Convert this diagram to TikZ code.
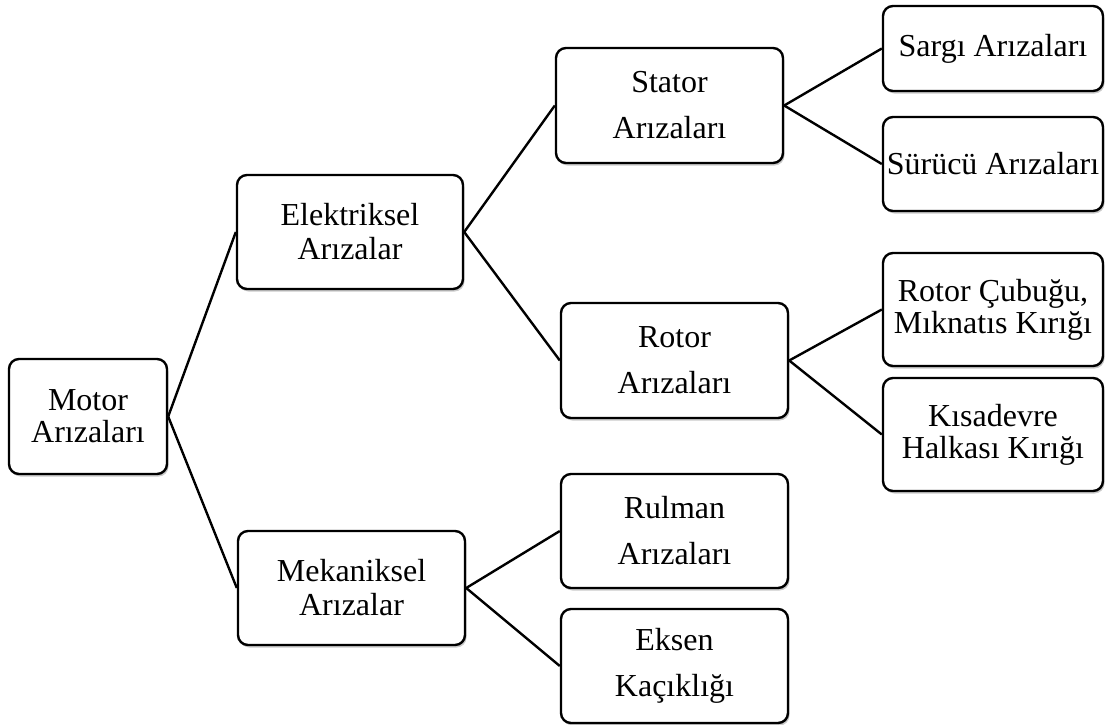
\documentclass[tikz,border=0pt]{standalone}
\usepackage{fontspec}
\setmainfont{Liberation Serif}
\usetikzlibrary{shadows}
\begin{document}
\begin{tikzpicture}[x=1pt,y=-1pt,
  box/.style={draw, line width=2.4pt, rounded corners=10pt, fill=white, inner sep=0pt,
    align=center, drop shadow={shadow xshift=1.5pt, shadow yshift=-2.5pt, opacity=0.35, fill=black!60}},
  tight/.style={font=\fontsize{32}{32}\selectfont},
  mid/.style={font=\fontsize{32}{34}\selectfont},
  loose/.style={font=\fontsize{32}{46}\selectfont},
  link/.style={line width=2.4pt}]
\useasboundingbox (0,0) rectangle (1105,724);

% root
\node[box, tight, minimum width=158pt, minimum height=115pt] (motor) at (88,416.5) {Motor\\Arızaları};

% second level
\node[box, mid, minimum width=226pt, minimum height=114pt] (elek) at (350,232) {Elektriksel\\Arızalar};
\node[box, mid, minimum width=227pt, minimum height=114pt] (mek) at (351.5,588) {Mekaniksel\\Arızalar};

% third level
\node[box, loose, minimum width=227pt, minimum height=115pt] (stator) at (669.5,105.5) {Stator\\Arızaları};
\node[box, loose, minimum width=227pt, minimum height=115pt] (rotor) at (674.5,360.5) {Rotor\\Arızaları};
\node[box, loose, minimum width=227pt, minimum height=114pt] (rulman) at (674.5,531) {Rulman\\Arızaları};
\node[box, loose, minimum width=227pt, minimum height=114pt] (eksen) at (674.5,666) {Eksen\\Kaçıklığı};

% leaves
\node[box, tight, minimum width=220pt, minimum height=85pt] (sargi) at (993,48.5) {Sargı Arızaları};
\node[box, tight, minimum width=220pt, minimum height=94pt] (surucu) at (993,164) {Sürücü Arızaları};
\node[box, tight, minimum width=220pt, minimum height=113pt] (cubuk) at (993,309.5) {Rotor Çubuğu,\\Mıknatıs Kırığı};
\node[box, tight, minimum width=220pt, minimum height=113pt] (halka) at (993,434.5) {Kısadevre\\Halkası Kırığı};

% connectors
\draw[link] (motor.east) -- (elek.west);
\draw[link] (motor.east) -- (mek.west);
\draw[link] (elek.east) -- (stator.west);
\draw[link] (elek.east) -- (rotor.west);
\draw[link] (mek.east) -- (rulman.west);
\draw[link] (mek.east) -- (eksen.west);
\draw[link] (stator.east) -- (sargi.west);
\draw[link] (stator.east) -- (surucu.west);
\draw[link] (rotor.east) -- (cubuk.west);
\draw[link] (rotor.east) -- (halka.west);
\end{tikzpicture}
\end{document}
